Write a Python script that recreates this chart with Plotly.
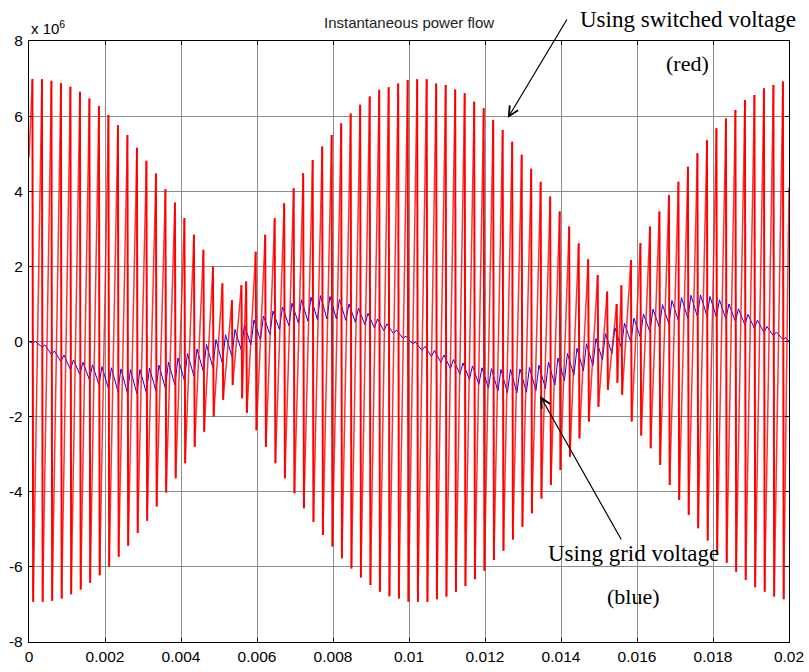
import plotly.graph_objects as go

# ---- Switched-voltage power: one spike per switching instant (time in ms, power in 10^6 W)
spike_ms = [
    0.09, 0.34, 0.59, 0.84, 1.09, 1.34, 1.59, 1.84, 2.09, 2.34, 2.59, 2.84,
    3.09, 3.34, 3.59, 3.84, 4.09, 4.34, 4.59, 4.84, 5.09, 5.34, 5.59,
    5.715, 5.965, 6.215, 6.465, 6.715, 6.965, 7.215, 7.465, 7.715, 7.965,
    8.215, 8.465, 8.715, 8.965, 9.215, 9.465, 9.715, 9.965, 10.215, 10.465,
    10.715, 10.965, 11.215, 11.465, 11.715, 11.965, 12.215, 12.465, 12.715,
    12.965, 13.215, 13.465, 13.715, 13.965, 14.215, 14.465, 14.715, 14.965,
    15.215, 15.465,
    15.59, 15.84, 16.09, 16.34, 16.59, 16.84, 17.09, 17.34, 17.59, 17.84,
    18.09, 18.34, 18.59, 18.84, 19.09, 19.34, 19.59, 19.84,
]
spike_top = [
    6.99, 6.98, 6.94, 6.88, 6.78, 6.65, 6.47, 6.27, 6.03, 5.76, 5.50, 5.16,
    4.81, 4.47, 4.05, 3.70, 3.29, 2.84, 2.44, 1.99, 1.55, 1.10, 1.50,
    1.60, 2.39, 2.84, 3.28, 3.68, 4.08, 4.48, 4.83, 5.19, 5.50,
    5.81, 6.07, 6.30, 6.52, 6.70, 6.77, 6.87, 6.96, 6.98, 6.98,
    6.87, 6.83, 6.71, 6.61, 6.38, 6.21, 5.90, 5.63, 5.32,
    4.97, 4.60, 4.25, 3.86, 3.46, 3.06, 2.61, 2.19, 1.77,
    1.33, 1.00,
    1.50, 2.17, 2.62, 3.06, 3.46, 3.90, 4.25, 4.65, 5.01, 5.36,
    5.68, 5.94, 6.16, 6.43, 6.56, 6.74, 6.83, 6.92,
]
spike_bottom = [
    -6.93, -6.93, -6.90, -6.84, -6.73, -6.60, -6.42, -6.22, -5.99, -5.73, -5.44, -5.10,
    -4.77, -4.39, -4.02, -3.64, -3.24, -2.80, -2.40, -2.00, -1.55, -1.16, -1.51,
    -1.90, -2.36, -2.80, -3.24, -3.64, -4.04, -4.44, -4.80, -5.15, -5.46,
    -5.77, -6.04, -6.28, -6.48, -6.66, -6.78, -6.84, -6.93, -6.93, -6.93,
    -6.86, -6.79, -6.66, -6.51, -6.33, -6.10, -5.82, -5.57, -5.27,
    -4.93, -4.57, -4.18, -3.82, -3.42, -3.07, -2.58, -2.13, -1.74,
    -1.29, -1.10,
    -1.42, -2.13, -2.50, -2.84, -3.29, -3.82, -4.22, -4.62, -4.97, -5.30,
    -5.60, -5.89, -6.13, -6.35, -6.54, -6.66, -6.79, -6.86,
]
red_start = 4.90   # value at t = 0
red_end = 4.10     # value at t = 20 ms
FALL_MS = 0.02     # duration of the falling edge

# ---- Grid-voltage power: ripple high/low per switching period (time in ms, 10^6 W)
ripple_ms = [
    0.09, 0.34, 0.59, 0.84, 1.09, 1.34, 1.59, 1.84, 2.09, 2.34, 2.59, 2.84,
    3.09, 3.34, 3.59, 3.84, 4.09, 4.34, 4.59, 4.84, 5.09, 5.34, 5.59, 5.84,
    6.09, 6.34, 6.59, 6.84, 7.09, 7.34, 7.59, 7.84, 8.09, 8.34, 8.59, 8.84,
    9.09, 9.34, 9.59, 9.84, 10.09, 10.34, 10.59, 10.84, 11.09, 11.34, 11.59,
    11.84, 12.09, 12.34, 12.59, 12.84, 13.09, 13.34, 13.59, 13.84, 14.09,
    14.34, 14.59, 14.84, 15.09, 15.34, 15.59, 15.84, 16.09, 16.34, 16.59,
    16.84, 17.09, 17.34, 17.59, 17.84, 18.09, 18.34, 18.59, 18.84, 19.09,
    19.34, 19.59, 19.84,
]
blue_hi = [
    0.00, -0.09, -0.25, -0.36, -0.49, -0.55, -0.62, -0.67, -0.70, -0.73,
    -0.75, -0.75, -0.71, -0.63, -0.55, -0.44, -0.32, -0.20, -0.08, 0.05,
    0.18, 0.32, 0.44, 0.57, 0.68, 0.81, 0.92, 1.02, 1.11, 1.18,
    1.22, 1.20, 1.12, 1.00, 0.89, 0.75, 0.60, 0.47, 0.31, 0.14,
    -0.02, -0.13, -0.24, -0.36, -0.48, -0.57, -0.65, -0.70, -0.72, -0.74,
    -0.74, -0.73, -0.69, -0.63, -0.55, -0.44, -0.32, -0.18, -0.06, 0.08,
    0.21, 0.36, 0.49, 0.62, 0.73, 0.86, 0.98, 1.09, 1.17, 1.23,
    1.24, 1.20, 1.11, 1.00, 0.87, 0.72, 0.57, 0.40, 0.25, 0.105,
]
blue_lo = [
    -0.04, -0.15, -0.35, -0.54, -0.75, -0.88, -1.02, -1.15, -1.25, -1.33,
    -1.37, -1.39, -1.37, -1.31, -1.25, -1.16, -1.04, -0.92, -0.80, -0.69,
    -0.58, -0.40, -0.24, -0.09, 0.04, 0.19, 0.32, 0.42, 0.49, 0.54,
    0.58, 0.60, 0.60, 0.56, 0.51, 0.45, 0.36, 0.29, 0.21, 0.09,
    -0.06, -0.23, -0.40, -0.56, -0.72, -0.87, -1.01, -1.14, -1.24, -1.32,
    -1.36, -1.37, -1.35, -1.31, -1.25, -1.16, -1.04, -0.90, -0.78, -0.64,
    -0.49, -0.32, -0.17, -0.02, 0.11, 0.26, 0.38, 0.47, 0.55, 0.61,
    0.66, 0.68, 0.65, 0.60, 0.53, 0.44, 0.35, 0.24, 0.15, 0.055,
]
blue_start = 0.0
blue_end = 0.0
RISE_MS = 0.08     # fast ripple rise, slow decay

x_ticks = [0, 0.002, 0.004, 0.006, 0.008, 0.01, 0.012, 0.014, 0.016, 0.018, 0.02]
x_tick_text = ["0", "0.002", "0.004", "0.006", "0.008", "0.01",
               "0.012", "0.014", "0.016", "0.018", "0.02"]
y_ticks = [-8, -6, -4, -2, 0, 2, 4, 6, 8]
y_tick_text = ["-8", "-6", "-4", "-2", "0", "2", "4", "6", "8"]


def ms(v):
    return v / 1000.0


# Red waveform split into rising staircase (thin) and falling edges (solid)
rise_x, rise_y, fall_x, fall_y = [], [], [], []
prev_t, prev_v = 0.0, red_start
for t, top, bot in zip(spike_ms, spike_top, spike_bottom):
    rise_x += [ms(prev_t), ms(t), None]
    rise_y += [prev_v, top, None]
    fall_x += [ms(t), ms(t + FALL_MS), None]
    fall_y += [top, bot, None]
    prev_t, prev_v = t + FALL_MS, bot
rise_x += [ms(prev_t), ms(20.0)]
rise_y += [prev_v, red_end]

# Blue waveform
bx, by = [0.0], [blue_start]
for t, hi, lo in zip(ripple_ms, blue_hi, blue_lo):
    bx += [ms(t), ms(t + RISE_MS)]
    by += [lo, hi]
bx.append(ms(20.0))
by.append(blue_end)

fig = go.Figure()
fig.add_trace(go.Scatter(x=bx, y=by, mode="lines",
                         line=dict(color="#0000ff", width=1), hoverinfo="skip"))
fig.add_trace(go.Scatter(x=rise_x, y=rise_y, mode="lines",
                         line=dict(color="rgba(255,0,0,0.8)", width=1.5), hoverinfo="skip"))
fig.add_trace(go.Scatter(x=fall_x, y=fall_y, mode="lines",
                         line=dict(color="#ff0000", width=2), hoverinfo="skip"))

axis_common = dict(
    showline=True, linecolor="black", linewidth=1.3, mirror="ticks",
    ticks="inside", ticklen=4, tickcolor="black", automargin=False,
    showgrid=True, gridcolor="#8c8c8c", gridwidth=1, zeroline=False,
    tickfont=dict(family="Liberation Sans, Arial", size=15.5, color="black"),
)

fig.update_layout(
    template="none",
    width=809, height=672,
    margin=dict(l=29, r=20, t=41, b=30, autoexpand=False),
    paper_bgcolor="white", plot_bgcolor="white",
    showlegend=False,
    xaxis=dict(range=[0, 0.02], tickvals=x_ticks, ticktext=x_tick_text,
               ticklabelstandoff=0, **axis_common),
    yaxis=dict(range=[-8, 8], tickvals=y_ticks, ticktext=y_tick_text,
               ticklabelstandoff=2, **axis_common),
    annotations=[
        dict(text="Instantaneous power flow", xref="paper", yref="paper",
             x=0.5, y=1.0, yshift=19, xanchor="center", yanchor="middle",
             showarrow=False,
             font=dict(family="Liberation Sans, Arial", size=15, color="#222")),
        dict(text="x 10<sup>6</sup>", xref="paper", yref="paper",
             x=0.0, y=1.0, xanchor="left", yanchor="bottom", yshift=2,
             showarrow=False,
             font=dict(family="Liberation Sans, Arial", size=15, color="black")),
        dict(text="Using switched voltage", xref="paper", yref="paper",
             x=0.867, y=1.035, xanchor="center", yanchor="middle", showarrow=False,
             font=dict(family="Liberation Serif, Times New Roman", size=23, color="black")),
        dict(text="(red)", xref="paper", yref="paper",
             x=0.866, y=0.963, xanchor="center", yanchor="middle", showarrow=False,
             font=dict(family="Liberation Serif, Times New Roman", size=22, color="black")),
        dict(text="Using grid voltage", xref="paper", yref="paper",
             x=0.795, y=0.148, xanchor="center", yanchor="middle", showarrow=False,
             font=dict(family="Liberation Serif, Times New Roman", size=23, color="black")),
        dict(text="(blue)", xref="paper", yref="paper",
             x=0.796, y=0.075, xanchor="center", yanchor="middle", showarrow=False,
             font=dict(family="Liberation Serif, Times New Roman", size=22, color="black")),
        dict(text="", xref="x", yref="y", x=0.0126, y=5.95,
             showarrow=True, ax=60, ay=-100, arrowhead=5, arrowsize=1.6,
             arrowwidth=1.2, arrowcolor="black"),
        dict(text="", xref="x", yref="y", x=0.01345, y=-1.45,
             showarrow=True, ax=82, ay=145, arrowhead=5, arrowsize=1.6,
             arrowwidth=1.2, arrowcolor="black"),
    ],
)

fig.write_html("out.html")
